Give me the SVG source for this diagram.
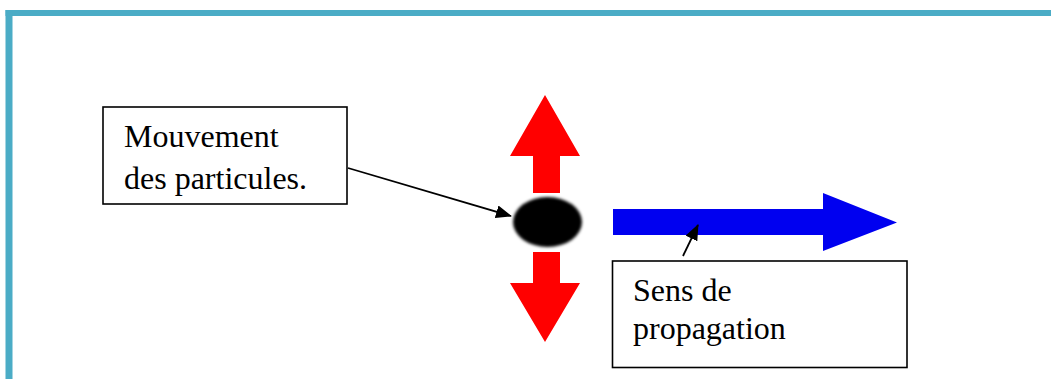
<svg xmlns="http://www.w3.org/2000/svg" width="1051" height="379" viewBox="0 0 1051 379">
  <defs>
    <style>
      .frame { fill: #4bacc6; }
      .box { fill: #ffffff; stroke: #000000; stroke-width: 1.6; }
      .label { font-family: "Liberation Serif", "Times New Roman", serif; font-size: 32px; fill: #000000; }
      .leader { stroke: #000000; stroke-width: 1.8; fill: none; }
      .red { fill: #ff0000; }
      .blue { fill: #0000f0; }
    </style>
    <marker id="tip" viewBox="0 0 16 13" refX="15" refY="6.5" markerWidth="16" markerHeight="13" markerUnits="userSpaceOnUse" orient="auto">
      <path d="M0,0 L16,6.5 L0,13 Z" fill="#000000"/>
    </marker>
    <filter id="soft" x="-20%" y="-20%" width="140%" height="140%">
      <feGaussianBlur stdDeviation="1.4"/>
    </filter>
    <filter id="softer" x="-5%" y="-5%" width="110%" height="110%">
      <feGaussianBlur stdDeviation="0.6"/>
    </filter>
  </defs>

  <rect width="1051" height="379" fill="#ffffff"/>

  <!-- page frame: top and left rules -->
  <g id="frame">
    <rect class="frame" x="5.5" y="10" width="1045.5" height="6"/>
    <rect class="frame" x="5.5" y="10" width="7" height="369"/>
  </g>

  <!-- oscillating particle with its two displacement arrows -->
  <g id="particle" filter="url(#softer)">
    <path class="red" d="M545,95 L580,156 L560,156 L560,193 L533,193 L533,156 L510,156 Z"/>
    <path class="red" d="M533,252 L560,252 L560,283 L580,283 L545,342 L510,283 L533,283 Z"/>
  </g>
  <ellipse id="dot" cx="547.5" cy="222" rx="34.5" ry="25" fill="#000000" filter="url(#soft)"/>

  <!-- propagation direction arrow -->
  <g id="propagation-arrow" filter="url(#softer)">
    <path class="blue" d="M613,209 L823,209 L823,193 L897,222.5 L823,251 L823,235 L613,235 Z"/>
  </g>

  <!-- callout: particle motion -->
  <g id="callout-motion">
    <rect class="box" x="103" y="107" width="244" height="97"/>
    <text class="label" x="124" y="147">Mouvement</text>
    <text class="label" x="124" y="189">des particules.</text>
  </g>

  <!-- callout: propagation direction -->
  <g id="callout-propagation">
    <rect class="box" x="612.5" y="261" width="294.5" height="106.5"/>
    <text class="label" x="633" y="301">Sens de</text>
    <text class="label" x="633" y="339">propagation</text>
  </g>

  <!-- leader lines -->
  <g id="connectors">
    <line class="leader" x1="348" y1="168" x2="511" y2="216" marker-end="url(#tip)"/>
    <line class="leader" x1="683" y1="256" x2="698" y2="225" marker-end="url(#tip)"/>
  </g>
</svg>
